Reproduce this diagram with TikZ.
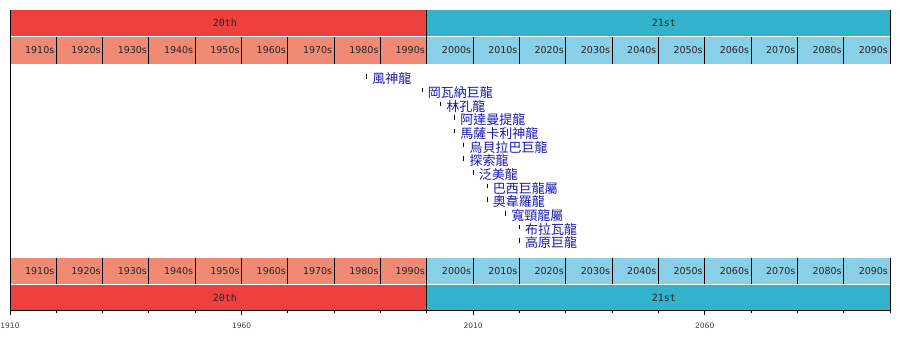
\documentclass[tikz,border=0pt]{standalone}
\usepackage{fontspec}
\setmainfont{DejaVu Sans}
\newfontfamily\cjkfont{Noto Sans CJK TC}
\newfontfamily\barmono{DejaVu Sans Mono}
\usetikzlibrary{positioning}
\definecolor{cent20}{RGB}{239,64,64}
\definecolor{dec20}{RGB}{240,138,116}
\definecolor{cent21}{RGB}{51,178,204}
\definecolor{dec21}{RGB}{137,207,232}
\definecolor{taxonblue}{RGB}{24,24,176}

\begin{document}
\begin{tikzpicture}[x=1pt, y=-1pt,
  decade/.style={font=\fontsize{9.5}{10}\selectfont, anchor=east, inner sep=0pt, text=black!85},
  century/.style={font=\barmono\fontsize{10}{11}\selectfont, inner sep=0pt, text=black!85},
  taxon/.style={font=\cjkfont\fontsize{13}{13}\selectfont, text=taxonblue, inner sep=0pt},
  yearlabel/.style={font=\fontsize{7.5}{8}\selectfont, inner sep=0pt, text=black!75},
  edge/.style={line width=0.9pt}]
  \useasboundingbox (0,0) rectangle (900,360);
  % x in years from here on
  \begin{scope}[x=4.631579pt, xshift=-8836.316pt]
    % bars, top and bottom
    \fill[cent20] (1910,10) rectangle (2000,36);
    \fill[cent21] (2000,10) rectangle (2100,36);
    \fill[dec20] (1910,37) rectangle (2000,63.5);
    \fill[dec21] (2000,37) rectangle (2100,63.5);
    \fill[dec20] (1910,257.5) rectangle (2000,284);
    \fill[dec21] (2000,257.5) rectangle (2100,284);
    \fill[cent20] (1910,285) rectangle (2000,310);
    \fill[cent21] (2000,285) rectangle (2100,310);
    \node[century] (ct20) at (1956.4,23) {20th};
    \node[century] (ct21) at (2051.2,23) {21st};
    \node[century] (cb20) at (1956.4,297.5) {20th};
    \node[century] (cb21) at (2051.2,297.5) {21st};
    \foreach \d in {1910,1920,...,2090}{
      \node[decade] (dt\d) at (\d+9.6,50.5) {\d s};
      \node[decade] (db\d) at (\d+9.6,271) {\d s};
    }
    \foreach \d in {1920,1930,...,2090}{
      \draw[edge] (\d,37) -- (\d,63.5);
      \draw[edge] (\d,257.5) -- (\d,284);
    }
    \foreach \d in {2000,2100}{
      \draw[edge] (\d,10) -- (\d,63.5);
      \draw[edge] (\d,257.5) -- (\d,310);
    }
    \draw[edge] (1910,10) -- (1910,310);
    % time axis
    \draw[edge] (1910,310) -- (2100,310);
    \foreach \d in {1920,1930,...,2100}
      \draw[edge] (\d,310) -- (\d,312.5);
    \foreach \d in {1910,1960,2010,2060}{
      \draw[edge] (\d,310) -- (\d,315);
      \node[yearlabel] (ax\d) at (\d,326) {\d};
    }
    % taxa
    \foreach \yr/\name [count=\i from 0] in {1987/風神龍, 1999/岡瓦納巨龍,
        2003/林孔龍, 2006/阿達曼提龍, 2006/馬薩卡利神龍, 2008/烏貝拉巴巨龍,
        2008/探索龍, 2010/泛美龍, 2013/巴西巨龍屬, 2013/奧韋羅龍,
        2017/寬頸龍屬, 2020/布拉瓦龍, 2020/高原巨龍}{
      \coordinate (yr\i) at (\yr,78.7+13.69*\i);
      \draw[line width=0.9pt] ([yshift=4.5pt]yr\i) -- (yr\i);
      \node[taxon, right=5.5pt of yr\i] (tx\i) {\name};
    }
  \end{scope}
\end{tikzpicture}
\end{document}
